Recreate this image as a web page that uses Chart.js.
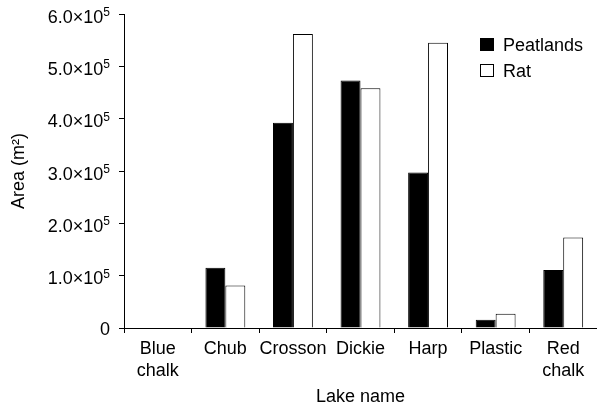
<!DOCTYPE html>
<html>
<head>
<meta charset="utf-8">
<title>Lake area</title>
<script src="https://cdn.jsdelivr.net/npm/chart.js@4/dist/chart.umd.min.js"></script>
<style>
  html, body { margin: 0; padding: 0; background: #fff; }
  #wrap { width: 597px; height: 411px; }
</style>
</head>
<body>
<div id="wrap"><canvas id="lakeChart" width="597" height="411"></canvas></div>
<script>
// lake names (two-line labels as arrays)
var lakes = [['Blue', 'chalk'], 'Chub', 'Crosson', 'Dickie', 'Harp', 'Plastic', ['Red', 'chalk']];
// area in m2
var peatlands = [0, 115000, 392000, 473000, 297000, 16000, 111000];
var rat = [0, 81000, 562000, 458000, 545000, 27000, 173000];
var yTicks = [0, 100000, 200000, 300000, 400000, 500000, 600000];

var FONT = "'Liberation Sans', Arial, Helvetica, sans-serif";

// y tick labels drawn as 6.0x10^5 with a real superscript
var sciTicks = {
    id: 'sciTicks',
    afterDraw: function (chart) {
        var ctx = chart.ctx;
        var sc = chart.scales.y;
        ctx.save();
        ctx.fillStyle = '#000';
        ctx.textBaseline = 'alphabetic';
        sc.ticks.forEach(function (t) {
            var v = t.value;
            var y = sc.getPixelForValue(v);
            var right = sc.right - 14;
            if (v === 0) {
                ctx.font = '18px ' + FONT;
                ctx.textAlign = 'right';
                ctx.fillText('0', right, y + 6.5);
                return;
            }
            var exp = Math.floor(Math.log10(v));
            var base = (v / Math.pow(10, exp)).toFixed(1) + '\u00d710';
            ctx.font = '12px ' + FONT;
            var ew = ctx.measureText(String(exp)).width;
            ctx.textAlign = 'left';
            ctx.fillText(String(exp), right - ew, y + 2);
            ctx.font = '18px ' + FONT;
            ctx.textAlign = 'right';
            ctx.fillText(base, right - ew, y + 8.5);
        });
        ctx.restore();
    }
};

// legend box in the top right of the plot
var cornerLegend = {
    id: 'cornerLegend',
    afterDraw: function (chart) {
        var ctx = chart.ctx;
        var area = chart.chartArea;
        ctx.save();
        chart.data.datasets.forEach(function (ds, i) {
            var x = area.right - 117;
            var y = area.top + 24 + i * 26;
            ctx.fillStyle = ds.backgroundColor;
            ctx.fillRect(x, y, 14, 13);
            ctx.strokeStyle = '#000';
            ctx.lineWidth = 1;
            ctx.strokeRect(x + 0.5, y + 0.5, 13, 12);
            ctx.fillStyle = '#000';
            ctx.font = '18px ' + FONT;
            ctx.textAlign = 'left';
            ctx.textBaseline = 'alphabetic';
            ctx.fillText(ds.label, x + 23, y + 13);
        });
        ctx.restore();
    }
};

var ctx = document.getElementById('lakeChart').getContext('2d');
var chart = new Chart(ctx, {
    type: 'bar',
    data: {
        labels: lakes,
        datasets: [
            { label: 'Peatlands', data: peatlands, backgroundColor: '#000', borderColor: '#000', borderWidth: 1 },
            { label: 'Rat', data: rat, backgroundColor: '#fff', borderColor: '#000', borderWidth: 1 }
        ]
    },
    options: {
        responsive: false,
        animation: false,
        devicePixelRatio: 1,
        layout: { padding: { top: 14, right: 0, bottom: 0, left: 0 } },
        datasets: { bar: { categoryPercentage: 0.59, barPercentage: 1.0 } },
        plugins: {
            legend: { display: false },
            tooltip: { enabled: false }
        },
        scales: {
            x: {
                offset: true,
                grid: { offset: true, drawOnChartArea: false, drawTicks: true, tickLength: 5, color: '#000' },
                border: { color: '#000', width: 1 },
                ticks: { color: '#000', font: { family: FONT, size: 18, lineHeight: 1.24 }, padding: 5, maxRotation: 0, autoSkip: false },
                title: { display: true, text: 'Lake name', color: '#000', font: { family: FONT, size: 18 }, padding: { top: 0, bottom: 3 } },
                afterFit: function (s) { s.height = 83; }
            },
            y: {
                min: 0,
                max: 600000,
                afterBuildTicks: function (s) { s.ticks = yTicks.map(function (v) { return { value: v }; }); },
                grid: { drawOnChartArea: false, drawTicks: true, tickLength: 5, color: '#000' },
                border: { color: '#000', width: 1 },
                ticks: { display: false },
                title: { display: true, text: 'Area (m\u00b2)', color: '#000', font: { family: FONT, size: 18 }, padding: { top: 8, bottom: 0 } },
                afterFit: function (s) { s.width = 124; }
            }
        }
    },
    plugins: [sciTicks, cornerLegend]
});
</script>
</body>
</html>
